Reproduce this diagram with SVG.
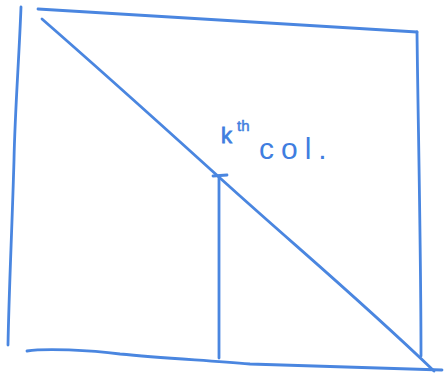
<svg xmlns="http://www.w3.org/2000/svg" width="444" height="378" viewBox="0 0 444 378">
<style>
.ln{fill:none;stroke:#4a86e0;stroke-width:2.8;stroke-linecap:round;stroke-linejoin:round}
.tx{fill:#3f7ee0;font-family:"Liberation Sans",Arial,sans-serif}
</style>
<rect width="444" height="378" fill="#ffffff"/>
<g id="frame">
<path class="ln" d="M21,7 C19,60 15,110 14,160 C12,230 9,290 8,345"/>
<path class="ln" d="M38,9 L417,32"/>
<path class="ln" d="M417,32 C418,120 421,250 421,356"/>
<path class="ln" d="M27,351 C45,348 90,350 120,354 C160,358 200,360 250,364 C320,366 390,368 442,370"/>
</g>
<g id="diagonal">
<path class="ln" d="M42,19 C120,87 200,160 230,187 C300,250 360,300 434,371"/>
</g>
<g id="kth-column">
<path class="ln" d="M219,177 C219,240 219,300 219,358"/>
<path class="ln" d="M213,176 L227,175"/>
</g>
<g id="label">
<text class="tx" x="221" y="143" font-size="22" stroke="#3f7ee0" stroke-width="0.8">k</text>
<text class="tx" x="237" y="131" font-size="15" stroke="#3f7ee0" stroke-width="0.5">th</text>
<text class="tx" x="259" y="159" font-size="30" letter-spacing="7">col.</text>
</g>
</svg>
